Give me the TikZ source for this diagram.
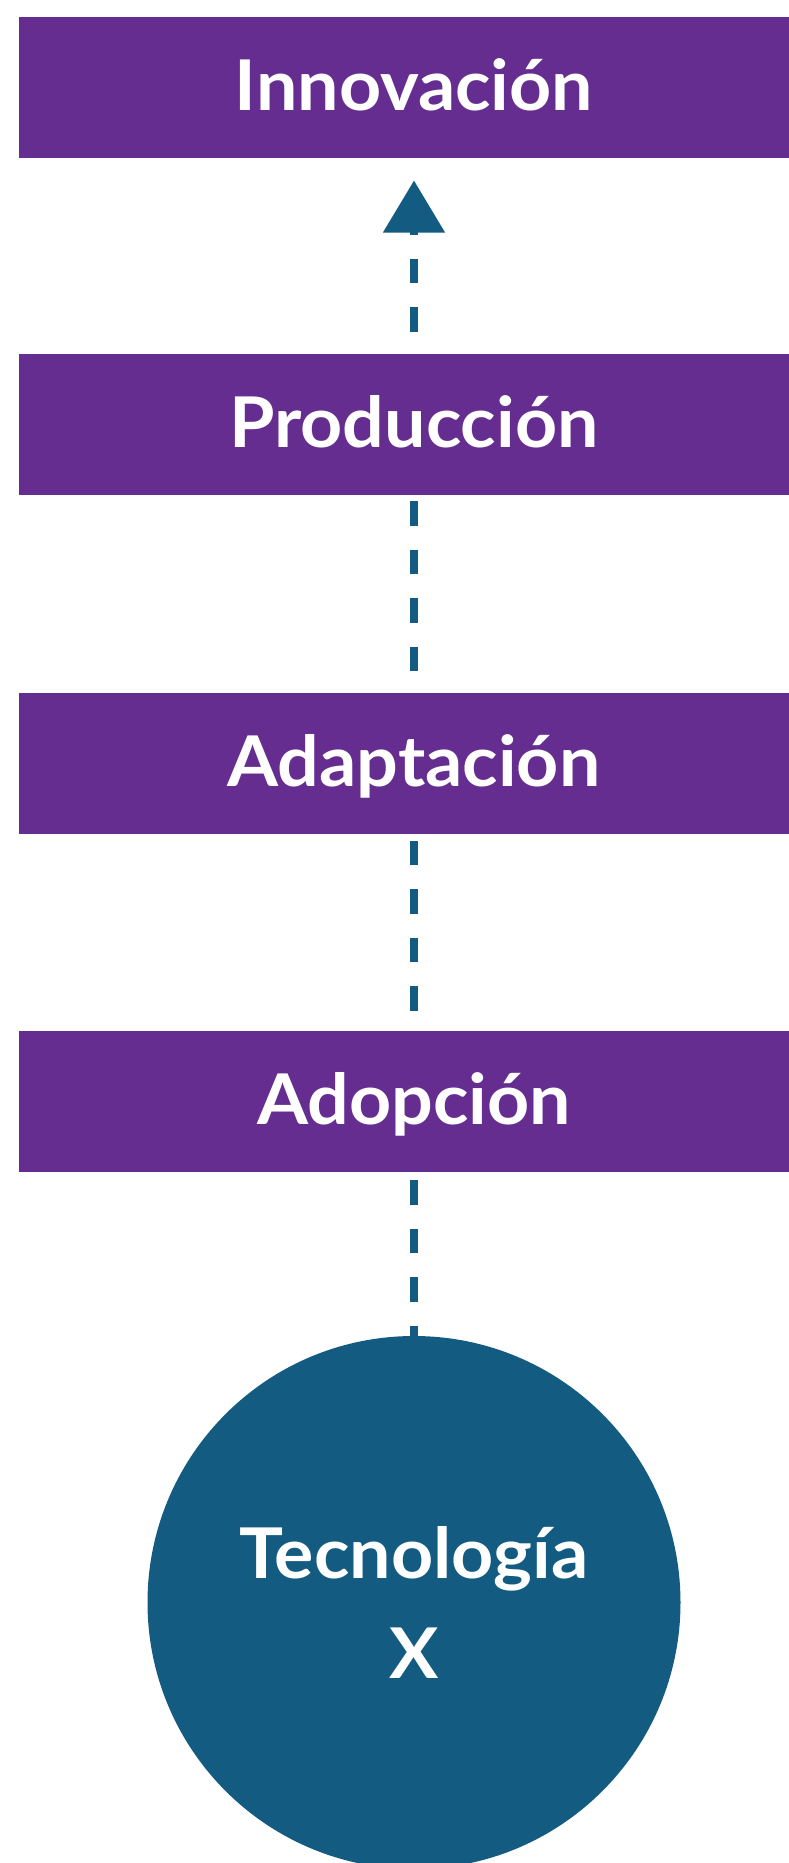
\documentclass[tikz,border=0pt]{standalone}
\usepackage{fontspec}
\setmainfont{Lato}[FakeStretch=1.05]
\usetikzlibrary{arrows.meta,backgrounds}
\definecolor{boxpurple}{HTML}{662D91}
\definecolor{techblue}{HTML}{135B80}
\tikzset{
  stagebox/.style={fill=boxpurple, text=white, minimum width=790pt, minimum height=141pt,
    inner sep=0pt, outer sep=0pt, text height=46pt, text depth=0pt,
    font=\fontsize{70}{84}\selectfont\bfseries},
  techcircle/.style={circle, fill=techblue, text=white, minimum size=533pt, inner sep=0pt,
    outer sep=0pt, align=center, font=\fontsize{70}{100}\selectfont\bfseries},
  flow/.style={draw=techblue, line width=8pt, dash pattern=on 24.5pt off 24pt, dash phase=14pt,
    -{Triangle[length=52pt,width=60pt]}, shorten >=23pt}
}
\begin{document}
\begin{tikzpicture}[x=1pt,y=-1pt]
\useasboundingbox (0,0) rectangle (789,1863);
\node[stagebox] (inno) at (414,87) {Innovación};
\node[stagebox] (prod) at (414,424.5) {Producción};
\node[stagebox] (adap) at (414,763) {Adaptación};
\node[stagebox] (adop) at (414,1101) {Adopción};
\node[techcircle] (tec) at (414,1602.5) {Tecnología\\X};
\begin{pgfonlayer}{background}
\fill[white] (0,0) rectangle (789,1863);
\draw[flow] (tec.north) -- (inno.south);
\end{pgfonlayer}
\end{tikzpicture}
\end{document}
